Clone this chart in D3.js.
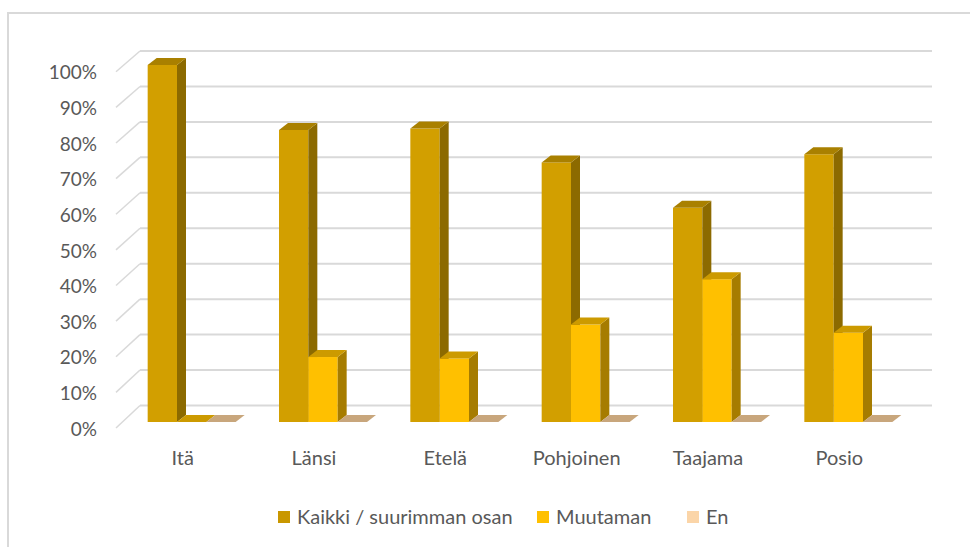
<!DOCTYPE html>
<html>
<head>
<meta charset="utf-8">
<script src="https://cdn.jsdelivr.net/npm/d3@7"></script>
<style>
  body { margin: 0; background: #fff; }
  text { font-family: Lato, "Open Sans", sans-serif; fill: #595959; }
</style>
</head>
<body>
<div id="chart"></div>
<script>
// data
var categories = ["Itä", "Länsi", "Etelä", "Pohjoinen", "Taajama", "Posio"]
var seriesNames = ["Kaikki / suurimman osan", "Muutaman", "En"]
var kaikki = [1.00, 0.818, 0.822, 0.727, 0.60, 0.75]
var muutaman = [0.00, 0.182, 0.178, 0.273, 0.40, 0.25]
var en = [0, 0, 0, 0, 0, 0]
var yTicks = [0, 0.1, 0.2, 0.3, 0.4, 0.5, 0.6, 0.7, 0.8, 0.9, 1.0]

var values = [kaikki, muutaman, en]

// colours per series: front, side, top, legend
var colors = [
  { front: "#d29f00", side: "#8c6a00", top: "#a98000", legend: "#c99700" },
  { front: "#ffc000", side: "#a67c00", top: "#cc9a00", legend: "#ffc000" },
  { front: "#f8cba0", side: "#b89a78", top: "#c8a67c", legend: "#fbd5a8" }
]

var width = 970, height = 547
var dx = 9, dy = -7   // depth of the bars

var svg = d3.select("#chart").append("svg")
  .attr("width", width)
  .attr("height", height)

// chart border
svg.append("path")
  .attr("d", "M8,547 L8,13 L970,13")
  .attr("fill", "none")
  .attr("stroke", "#d9d9d9")
  .attr("stroke-width", 2)

// scales
var x = d3.scaleBand().domain(categories).range([126, 914])
  .paddingInner(0.33).paddingOuter(0.165)
var xs = d3.scaleBand().domain(seriesNames).range([0, x.bandwidth()])
var yBar = d3.scaleLinear().domain([0, 1]).range([422, 65])     // bar front plane
var yBack = d3.scaleLinear().domain([0, 1]).range([405.5, 51])   // back wall
var yFront = d3.scaleLinear().domain([0, 1]).range([428, 71.7])  // floor front / axis

// gridlines: back wall + left side wall
var grid = svg.append("g")
grid.selectAll("line.back").data(yTicks).enter().append("line")
  .attr("class", "back")
  .attr("x1", 140).attr("x2", 932)
  .attr("y1", function(d) { return yBack(d) })
  .attr("y2", function(d) { return yBack(d) })
  .attr("stroke", "#d9d9d9").attr("stroke-width", 2)
grid.selectAll("line.side").data(yTicks).enter().append("line")
  .attr("class", "side")
  .attr("x1", 116).attr("x2", 140)
  .attr("y1", function(d) { return yFront(d) })
  .attr("y2", function(d) { return yBack(d) })
  .attr("stroke", "#d9d9d9").attr("stroke-width", 1.5)

// y axis labels
svg.append("g").selectAll("text").data(yTicks).enter().append("text")
  .attr("x", 97)
  .attr("y", function(d) { return yFront(d) + 1 })
  .attr("dy", "0.35em")
  .attr("text-anchor", "end")
  .attr("font-size", 19)
  .text(d3.format(".0%"))

// bars
function pts(arr) { return arr.map(function(p) { return p.join(",") }).join(" ") }

var bars = svg.append("g")
categories.forEach(function(cat, i) {
  seriesNames.forEach(function(s, j) {
    var v = values[j][i]
    var c = colors[j]
    var x0 = x(cat) + xs(s)
    var x1 = x0 + xs.bandwidth()
    var yt = yBar(v), yb = yBar(0)
    if (v > 0) {
      bars.append("rect")
        .attr("x", x0).attr("y", yt)
        .attr("width", xs.bandwidth()).attr("height", yb - yt)
        .attr("fill", c.front)
      bars.append("polygon")
        .attr("points", pts([[x1, yb], [x1 + dx, yb + dy], [x1 + dx, yt + dy], [x1, yt]]))
        .attr("fill", c.side)
    }
    bars.append("polygon")
      .attr("points", pts([[x0, yt], [x0 + dx, yt + dy], [x1 + dx, yt + dy], [x1, yt]]))
      .attr("fill", c.top)
  })
})

// x axis labels
svg.append("g").selectAll("text").data(categories).enter().append("text")
  .attr("x", function(d) { return x(d) + 35 })
  .attr("y", 465)
  .attr("text-anchor", "middle")
  .attr("font-size", 20)
  .text(function(d) { return d })

// legend
var legendX = [278, 537, 687]
var legend = svg.append("g").selectAll("g").data(seriesNames).enter().append("g")
  .attr("transform", function(d, i) { return "translate(" + legendX[i] + ",511)" })
legend.append("rect")
  .attr("width", 12).attr("height", 12)
  .attr("fill", function(d, i) { return colors[i].legend })
legend.append("text")
  .attr("x", 19).attr("y", 6)
  .attr("dy", "0.35em")
  .attr("font-size", 20)
  .text(function(d) { return d })
</script>
</body>
</html>
